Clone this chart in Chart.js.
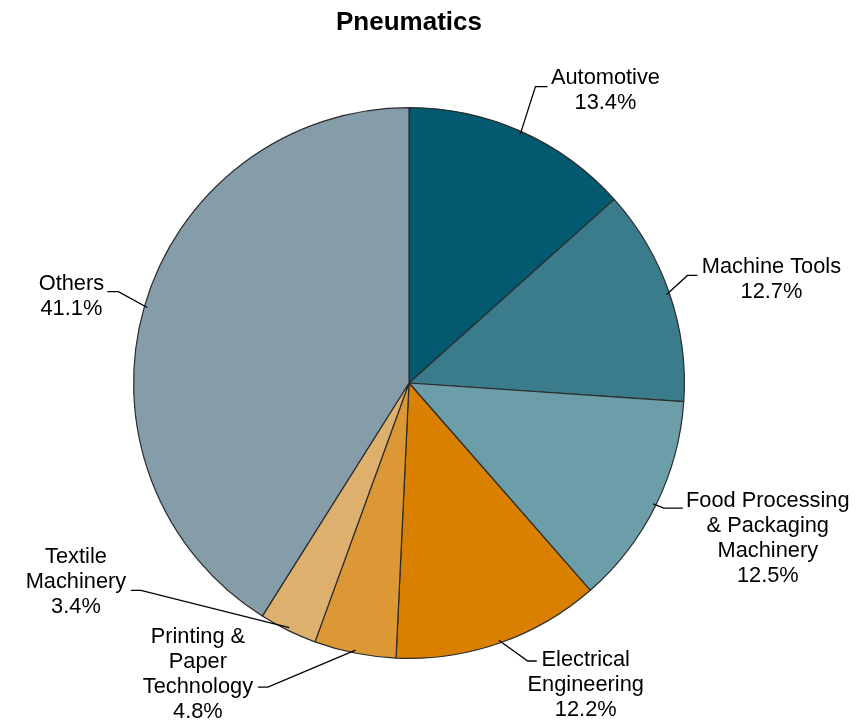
<!DOCTYPE html>
<html>
<head>
<meta charset="utf-8">
<script src="https://cdn.jsdelivr.net/npm/chart.js@4/dist/chart.umd.min.js"></script>
<style>
  html, body { margin: 0; padding: 0; background: #fff; }
  #wrap { width: 867px; height: 723px; }
</style>
</head>
<body>
<div id="wrap"><canvas id="myChart" width="867" height="723"></canvas></div>
<script>
// pie data (share in %)
var categories = ["Automotive", "Machine Tools", "Food Processing & Packaging Machinery",
  "Electrical Engineering", "Printing & Paper Technology", "Textile Machinery", "Others"];
var labelLines = [
  ["Automotive"],
  ["Machine Tools"],
  ["Food Processing", "& Packaging", "Machinery"],
  ["Electrical", "Engineering"],
  ["Printing &", "Paper", "Technology"],
  ["Textile", "Machinery"],
  ["Others"]
];
var shares = [13.4, 12.7, 12.5, 12.2, 4.8, 3.4, 41.1];
var sliceColors = ["#03596f", "#3a7c8c", "#6c9eaa", "#d98000", "#dc9834", "#ddb06e", "#859ca9"];

// leader line / label layout, offsets from the slice's outer mid point
var labelLayout = [
  { elbow: [14, -45], end: [26, -45], text: [84, -54] },
  { elbow: [18, -18], end: [28, -18], text: [102, -26] },
  { elbow: [8, 3], end: [27, 3], text: [112, -4] },
  { elbow: [28, 18], end: [37, 18], text: [86, 17] },
  { elbow: [-87, 34], end: [-97, 34], text: [-157, -16] },
  { elbow: [-147, -40], end: [-157, -40], text: [-212, -73] },
  { elbow: [-26, -15], end: [-37, -15], text: [-73, -23] }
];

var pieLabels = {
  id: 'pieLabels',
  afterDraw: function(chart) {
    var ctx = chart.ctx;
    var meta = chart.getDatasetMeta(0);
    ctx.save();
    // title
    ctx.fillStyle = '#000';
    ctx.font = 'bold 26px "Liberation Sans", Arial, sans-serif';
    ctx.textAlign = 'center';
    ctx.textBaseline = 'middle';
    ctx.fillText('Pneumatics', 409, 23);

    ctx.font = '21.8px "Liberation Sans", Arial, sans-serif';
    meta.data.forEach(function(arc, i) {
      var p = arc.getProps(['x', 'y', 'startAngle', 'endAngle', 'outerRadius'], true);
      var mid = (p.startAngle + p.endAngle) / 2;
      // start the leader a touch inside the slice
      var ax = p.x + Math.cos(mid) * p.outerRadius;
      var ay = p.y + Math.sin(mid) * p.outerRadius;
      var sx = p.x + Math.cos(mid) * (p.outerRadius - 3);
      var sy = p.y + Math.sin(mid) * (p.outerRadius - 3);
      var lay = labelLayout[i];
      ctx.strokeStyle = '#000';
      ctx.lineWidth = 1.3;
      ctx.beginPath();
      ctx.moveTo(sx, sy);
      ctx.lineTo(ax + lay.elbow[0], ay + lay.elbow[1]);
      ctx.lineTo(ax + lay.end[0], ay + lay.end[1]);
      ctx.stroke();
      var lines = labelLines[i].concat([shares[i].toFixed(1) + '%']);
      lines.forEach(function(t, k) {
        ctx.fillText(t, ax + lay.text[0], ay + lay.text[1] + k * 25);
      });
    });
    ctx.restore();
  }
};

var ctx = document.getElementById("myChart").getContext('2d');
var myChart = new Chart(ctx, {
  type: 'pie',
  data: {
    labels: categories,
    datasets: [{
      data: shares,
      backgroundColor: sliceColors,
      borderColor: '#2b2b2b',
      borderWidth: 1.2
    }]
  },
  options: {
    responsive: false,
    animation: false,
    devicePixelRatio: 1,
    layout: { padding: { left: 133, right: 182, top: 107, bottom: 64 } },
    plugins: {
      legend: { display: false },
      tooltip: { enabled: false }
    }
  },
  plugins: [pieLabels]
});
</script>
</body>
</html>
